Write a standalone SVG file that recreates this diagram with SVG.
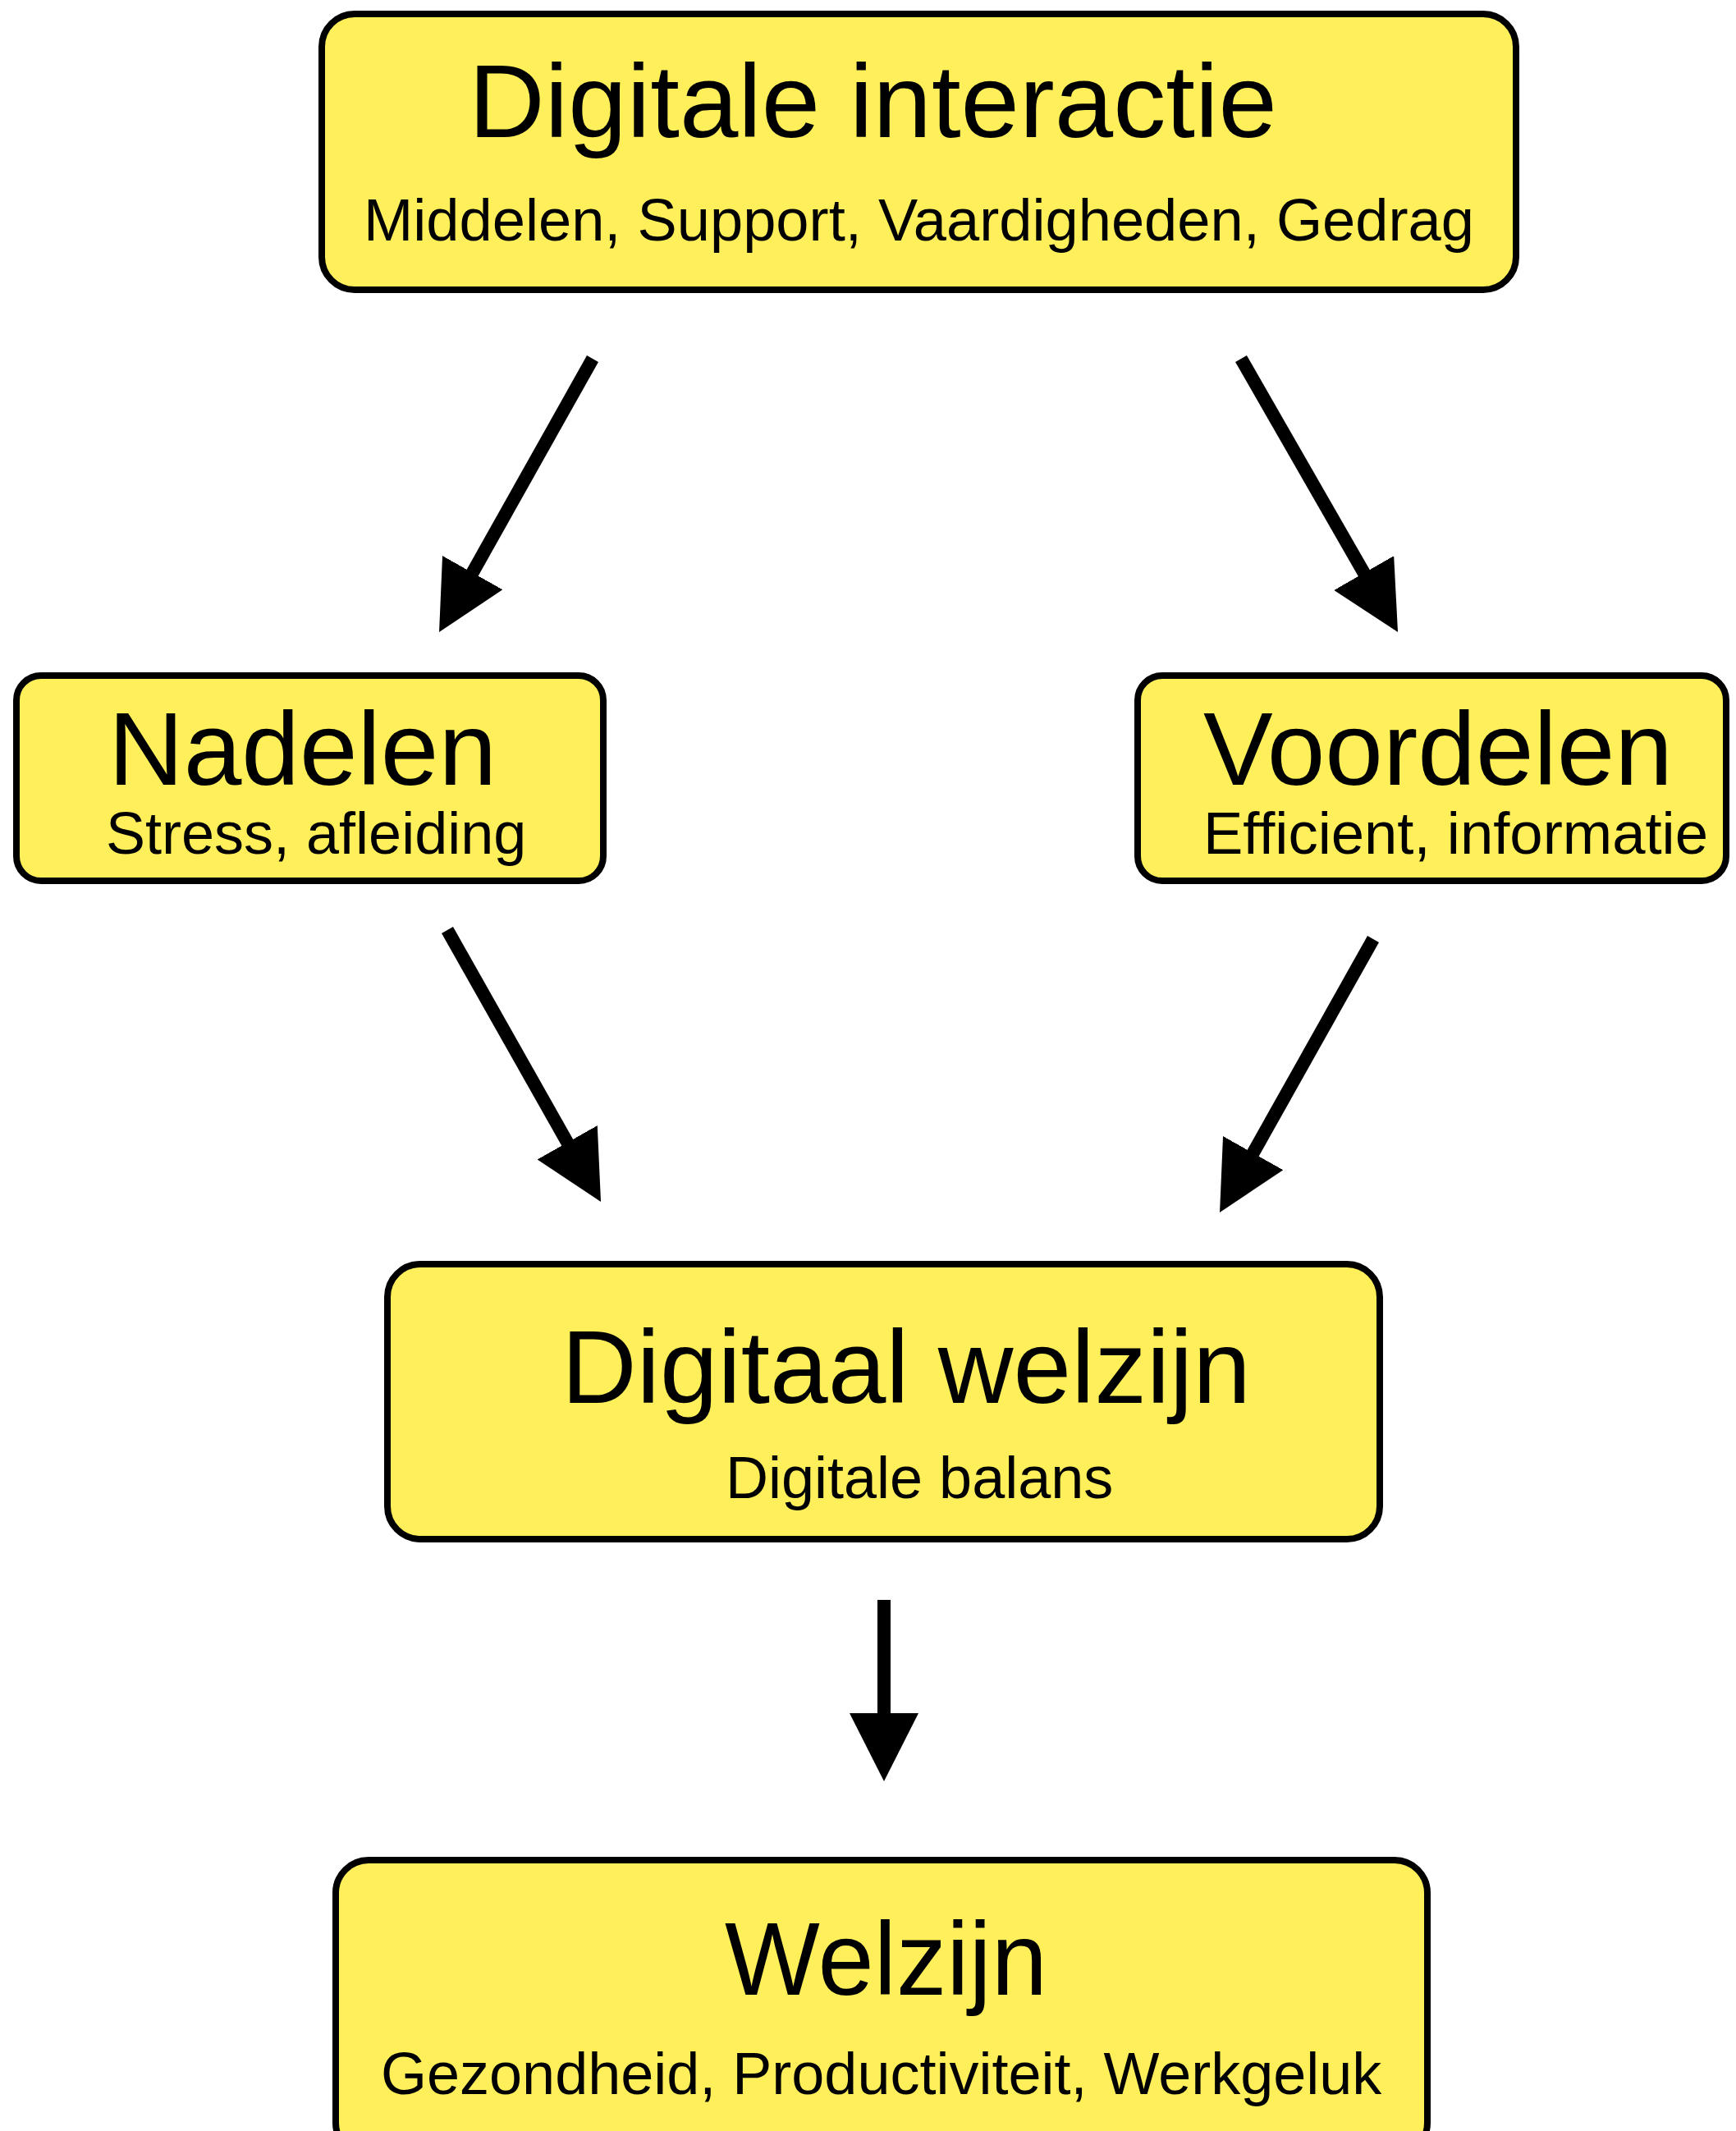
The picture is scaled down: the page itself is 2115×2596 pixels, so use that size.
<svg xmlns="http://www.w3.org/2000/svg" width="2115" height="2596" viewBox="0 0 2115 2596">
<style>
.box{fill:#FFEF5A;stroke:#000;stroke-width:8}
.t{font-family:"Liberation Sans",Arial,Helvetica,sans-serif;fill:#000}
.big{font-size:127px}
.sm{font-size:72px}
.con{stroke:#000;stroke-width:16;fill:none;marker-end:url(#ah)}
</style>
<defs>
<marker id="ah" markerUnits="userSpaceOnUse" markerWidth="83" markerHeight="84" refX="13" refY="42" orient="auto">
<path d="M0,0 L83,42 L0,84 Z" fill="#000"/>
</marker>
</defs>
<rect width="2115" height="2596" fill="#fff"/>
<g id="connectors">
<line class="con" x1="722" y1="437" x2="569.3" y2="709"/>
<line class="con" x1="1512" y1="437" x2="1668.2" y2="709.3"/>
<line class="con" x1="545" y1="1133" x2="697.6" y2="1403.1"/>
<line class="con" x1="1673" y1="1144" x2="1520.3" y2="1416"/>
<line class="con" x1="1077" y1="1949" x2="1077" y2="2100"/>
</g>
<g id="digitale-interactie">
<rect class="box" x="392" y="17" width="1455" height="336" rx="40"/>
<text class="t big" x="571" y="167" textLength="985" lengthAdjust="spacingAndGlyphs">Digitale interactie</text>
<text class="t sm" x="443" y="293" textLength="1353" lengthAdjust="spacingAndGlyphs">Middelen, Support, Vaardigheden, Gedrag</text>
</g>
<g id="nadelen">
<rect class="box" x="20" y="823" width="715" height="250" rx="30"/>
<text class="t big" x="132" y="956" font-size="125">Nadelen</text>
<text class="t sm" x="129" y="1040">Stress, afleiding</text>
</g>
<g id="voordelen">
<rect class="box" x="1386" y="823" width="717" height="250" rx="30"/>
<text class="t big" x="1466" y="956" font-size="125">Voordelen</text>
<text class="t sm" x="1466" y="1040" textLength="615" lengthAdjust="spacingAndGlyphs">Efficient, informatie</text>
</g>
<g id="digitaal-welzijn">
<rect class="box" x="472" y="1540" width="1209" height="335" rx="40"/>
<text class="t big" x="684" y="1709">Digitaal welzijn</text>
<text class="t sm" x="884" y="1825">Digitale balans</text>
</g>
<g id="welzijn">
<rect class="box" x="409" y="2266" width="1330" height="360" rx="40"/>
<text class="t big" x="883" y="2430" font-size="124" textLength="393" lengthAdjust="spacingAndGlyphs">Welzijn</text>
<text class="t sm" x="464" y="2551">Gezondheid, Productiviteit, Werkgeluk</text>
</g>
</svg>
